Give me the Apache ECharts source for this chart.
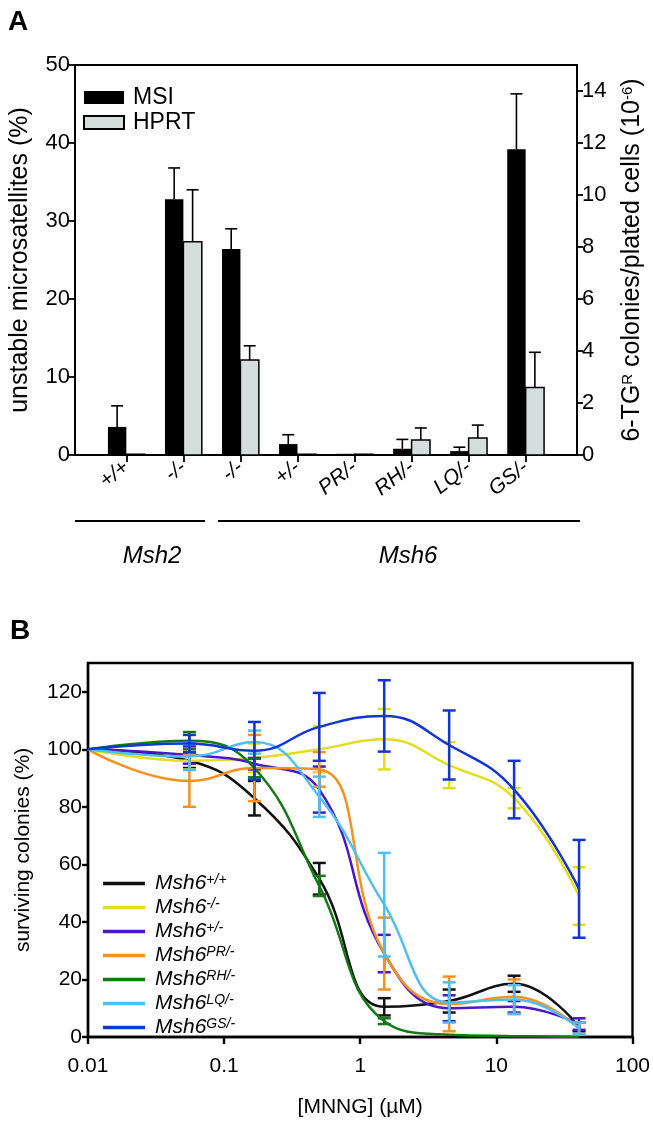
<!DOCTYPE html>
<html><head><meta charset="utf-8">
<script src="https://cdn.jsdelivr.net/npm/echarts@6/dist/echarts.min.js"></script>
<style>html,body{margin:0;padding:0;background:#fff}#c{width:653px;height:1124px}</style>
</head><body><div id="c"></div>
<script>
// ---------- Panel A data ----------
const categories = ['+/+', '-/-', '-/-', '+/-', 'PR/-', 'RH/-', 'LQ/-', 'GS/-'];
const msiValues  = [3.6, 32.8, 26.4, 1.4, 0.15, 0.8, 0.5, 39.2];   // % unstable microsatellites
const msiErrors  = [2.7, 4.0, 2.6, 1.2, 0, 1.2, 0.5, 7.1];
const hprtValues = [0.03, 8.2, 3.65, 0.03, 0.03, 0.58, 0.65, 2.6]; // 6-TG^R colonies (10^-6)
const hprtErrors = [0, 2.0, 0.55, 0, 0, 0.46, 0.5, 1.35];
const leftTicks  = [0, 10, 20, 30, 40, 50];
const rightTicks = [0, 2, 4, 6, 8, 10, 12, 14];

// ---------- Panel B data ----------
const doses = [0.01, 0.0556, 0.167, 0.5, 1.5, 4.5, 13.5, 40.5]; // MNNG (uM)
const genotypes = ['+/+', '-/-', '+/-', 'PR/-', 'RH/-', 'LQ/-', 'GS/-'];
const survWT  = [100, 96, 83, 55, 10.5, 12.5, 18.5, 3.5];
const errWT   = [0, 2.5, 6, 5.5, 3, 4, 2.8, 1.5];
const survKO  = [100, 96, 97, 100, 103.5, 94.5, 83, 49];
const errKO   = [0, 3, 5, 8, 10.5, 8, 3.5, 10];
const survHet = [100, 98, 95, 86, 29, 10, 10.5, 4.5];
const errHet  = [0, 3, 2, 8, 6.5, 4.5, 2, 2];
const survPR  = [100, 89, 93.5, 93, 29, 11.5, 14, 3];
const errPR   = [0, 9, 11.5, 6, 12.5, 9.5, 6, 2];
const survRH  = [100, 103, 93.5, 52.5, 5.5, 0.8, 0.3, 0];
const errRH   = [0, 3, 3.2, 3.5, 1, 0, 0, 0];
const survLQ  = [100, 97.5, 102.5, 83.5, 46, 12, 13, 3];
const errLQ   = [0, 4.7, 4, 7, 18, 7, 5, 2];
const survGS  = [100, 102, 99.5, 107.8, 111.6, 101.5, 86, 51.5];
const errGS   = [0, 3, 10, 11.8, 12.4, 12, 10, 17];
const survTicks = [0, 20, 40, 60, 80, 100, 120];

const survival = [survWT, survKO, survHet, survPR, survRH, survLQ, survGS];
const survErr  = [errWT, errKO, errHet, errPR, errRH, errLQ, errGS];
const colors = ['#111111', '#e3dd1e', '#4a17c9', '#f6901e', '#137a13', '#4cc0f2', '#1236d1'];

const F = 'Liberation Sans, Arial, sans-serif';
const chart = echarts.init(document.getElementById('c'));

function barRenderer(side, fill, stroke) {
  return function (params, api) {
    const i = api.value(0), v = api.value(1), e = api.value(2);
    const w = 0.323;
    const x0 = side < 0 ? i - w : i, x1 = side < 0 ? i : i + w;
    const p0 = api.coord([x0, 0]), p1 = api.coord([x1, v]);
    const cx = (p0[0] + p1[0]) / 2;
    const children = [{
      type: 'rect',
      shape: { x: p0[0], y: p1[1], width: p1[0] - p0[0], height: Math.max(p0[1] - p1[1], 0.8) },
      style: stroke ? { fill: fill, stroke: stroke, lineWidth: 1.5 } : { fill: fill }
    }];
    if (e > 0) {
      const pe = api.coord([i, v + e]);
      children.push({ type: 'line', shape: { x1: cx, y1: p1[1], x2: cx, y2: pe[1] }, style: { stroke: '#000', lineWidth: 1.6 } });
      children.push({ type: 'line', shape: { x1: cx - 6, y1: pe[1], x2: cx + 6, y2: pe[1] }, style: { stroke: '#000', lineWidth: 1.6 } });
    }
    return { type: 'group', children: children };
  };
}

function errRenderer(color) {
  return function (params, api) {
    const x = api.value(0), m = api.value(1), e = api.value(2);
    const top = api.coord([x, m + e]), bot = api.coord([x, Math.max(m - e, 0)]);
    const hw = 6.5, st = { stroke: color, lineWidth: 2.5 };
    return { type: 'group', children: [
      { type: 'line', shape: { x1: top[0], y1: top[1], x2: bot[0], y2: bot[1] }, style: st },
      { type: 'line', shape: { x1: top[0] - hw, y1: top[1], x2: top[0] + hw, y2: top[1] }, style: st },
      { type: 'line', shape: { x1: bot[0] - hw, y1: bot[1], x2: bot[0] + hw, y2: bot[1] }, style: st }
    ]};
  };
}

const series = [
  { type: 'custom', name: 'MSI', xAxisIndex: 0, yAxisIndex: 0, itemStyle: { color: '#000' },
    renderItem: barRenderer(-1, '#000', null), encode: { x: 0, y: 1 },
    data: categories.map((c, i) => [i + 1, msiValues[i], msiErrors[i]]) },
  { type: 'custom', name: 'HPRT', xAxisIndex: 0, yAxisIndex: 1, itemStyle: { color: '#d3dedd', borderColor: '#000', borderWidth: 1.5 },
    renderItem: barRenderer(1, '#d3dedd', '#000'), encode: { x: 0, y: 1 },
    data: categories.map((c, i) => [i + 1, hprtValues[i], hprtErrors[i]]) }
];

genotypes.forEach((g, k) => {
  series.push({
    type: 'line', name: g, xAxisIndex: 1, yAxisIndex: 2, smooth: 0.45, symbol: 'none',
    lineStyle: { color: colors[k], width: 2.5 }, itemStyle: { color: colors[k] }, z: 3 + k,
    data: doses.map((d, j) => [d, survival[k][j]])
  });
  series.push({
    type: 'custom', name: g + ' err', xAxisIndex: 1, yAxisIndex: 2, z: 3 + k,
    renderItem: errRenderer(colors[k]), encode: { x: 0, y: 1 },
    data: doses.map((d, j) => [d, survival[k][j], survErr[k][j]]).filter(r => r[2] > 0)
  });
});

const axisLineA = { show: true, lineStyle: { color: '#000', width: 1.8 } };
const axisLineB = { show: true, lineStyle: { color: '#000', width: 2.4 } };

chart.setOption({
  animation: false,
  backgroundColor: '#fff',
  textStyle: { fontFamily: F, color: '#000' },
  grid: [
    { left: 75, top: 65, width: 505, height: 390, show: true, borderColor: '#000', borderWidth: 1.8, backgroundColor: 'transparent' },
    { left: 88, top: 663, width: 549, height: 374, show: true, borderColor: '#000', borderWidth: 2.4, backgroundColor: 'transparent' }
  ],
  xAxis: [
    { type: 'value', gridIndex: 0, min: 0.1, max: 8.9, axisLine: axisLineA, splitLine: { show: false },
      axisTick: { show: true, customValues: categories.map((c, i) => i + 1), length: 7, lineStyle: { color: '#000', width: 1.8 } },
      axisLabel: { customValues: categories.map((c, i) => i + 1), formatter: v => categories[Math.round(v) - 1],
        rotate: 38, fontSize: 21, fontStyle: 'italic', color: '#000', fontFamily: F, margin: 10 } },
    { type: 'log', gridIndex: 1, min: 0.01, max: 100, logBase: 10, axisLine: axisLineB, splitLine: { show: false },
      axisTick: { show: true, length: 7, lineStyle: { color: '#000', width: 2.4 } },
      minorTick: { show: false },
      axisLabel: { fontSize: 21, color: '#000', fontFamily: F, margin: 19, formatter: v => String(+(+v).toPrecision(3)) },
      name: '[MNNG] (\u00b5M)', nameLocation: 'middle', nameGap: 60, nameTextStyle: { fontSize: 21, color: '#000', fontFamily: F } }
  ],
  yAxis: [
    { type: 'value', gridIndex: 0, min: 0, max: 50, interval: 10, position: 'left', axisLine: axisLineA, splitLine: { show: false },
      axisTick: { show: true, length: 6, lineStyle: { color: '#000', width: 1.8 } },
      axisLabel: { fontSize: 22, color: '#000', fontFamily: F, margin: 5 },
      name: 'unstable microsatellites (%)', nameLocation: 'middle', nameGap: 42, nameRotate: 90,
      nameTextStyle: { fontSize: 25, color: '#000', fontFamily: F } },
    { type: 'value', gridIndex: 0, min: 0, max: 15, position: 'right', axisLine: axisLineA, splitLine: { show: false },
      axisTick: { show: true, customValues: rightTicks, length: 6, lineStyle: { color: '#000', width: 1.8 } },
      axisLabel: { customValues: rightTicks, fontSize: 22, color: '#000', fontFamily: F, margin: 5 },
      name: '6-TG{sup|R} colonies/plated cells (10{sup|-6})', nameLocation: 'middle', nameGap: 43, nameRotate: 90,
      nameTextStyle: { fontSize: 25, color: '#000', fontFamily: F,
        rich: { sup: { fontSize: 15, verticalAlign: 'top', lineHeight: 14, fontFamily: F, color: '#000' } } } },
    { type: 'value', gridIndex: 1, min: 0, max: 130, position: 'left', axisLine: axisLineB, splitLine: { show: false },
      axisTick: { show: true, customValues: survTicks, length: 6, lineStyle: { color: '#000', width: 2.4 } },
      axisLabel: { customValues: survTicks, fontSize: 21, color: '#000', fontFamily: F, margin: 6 },
      name: 'surviving colonies (%)', nameLocation: 'middle', nameGap: 54, nameRotate: 90,
      nameTextStyle: { fontSize: 21, color: '#000', fontFamily: F } }
  ],
  legend: [
    { data: [{ name: 'MSI', icon: 'rect' }, { name: 'HPRT', icon: 'rect' }], left: 83, top: 86, orient: 'vertical', padding: 0,
      itemWidth: 40, itemHeight: 13, itemGap: 2, selectedMode: false,
      textStyle: { fontSize: 23, color: '#000', fontFamily: F, padding: [0, 0, 0, 4] } },
    { data: genotypes.map(g => ({ name: g, icon: 'rect' })), left: 103, top: 873, orient: 'vertical', padding: 0,
      itemWidth: 42, itemHeight: 3.5, itemGap: 3, selectedMode: false,
      formatter: n => '{a|Msh6}{b|' + n + '}',
      textStyle: { color: '#000', fontFamily: F,
        rich: { a: { fontSize: 21, fontStyle: 'italic', lineHeight: 20, padding: [0, 0, 0, 5], fontFamily: F, color: '#000' },
                b: { fontSize: 14, fontStyle: 'italic', lineHeight: 12, verticalAlign: 'top', fontFamily: F, color: '#000' } } } }
  ],
  graphic: [
    { type: 'text', left: 8, top: 8, style: { text: 'A', font: 'bold 28px ' + F, fill: '#000' } },
    { type: 'text', left: 10, top: 617, style: { text: 'B', font: 'bold 28px ' + F, fill: '#000' } },
    { type: 'line', shape: { x1: 75, y1: 521, x2: 205, y2: 521 }, style: { stroke: '#000', lineWidth: 2 } },
    { type: 'line', shape: { x1: 218, y1: 521, x2: 580, y2: 521 }, style: { stroke: '#000', lineWidth: 2 } },
    { type: 'text', x: 152, y: 556, style: { text: 'Msh2', font: 'italic 24px ' + F, fill: '#000', textAlign: 'center', textVerticalAlign: 'middle' } },
    { type: 'text', x: 408, y: 556, style: { text: 'Msh6', font: 'italic 24px ' + F, fill: '#000', textAlign: 'center', textVerticalAlign: 'middle' } }
  ],
  series: series
});
</script></body></html>
